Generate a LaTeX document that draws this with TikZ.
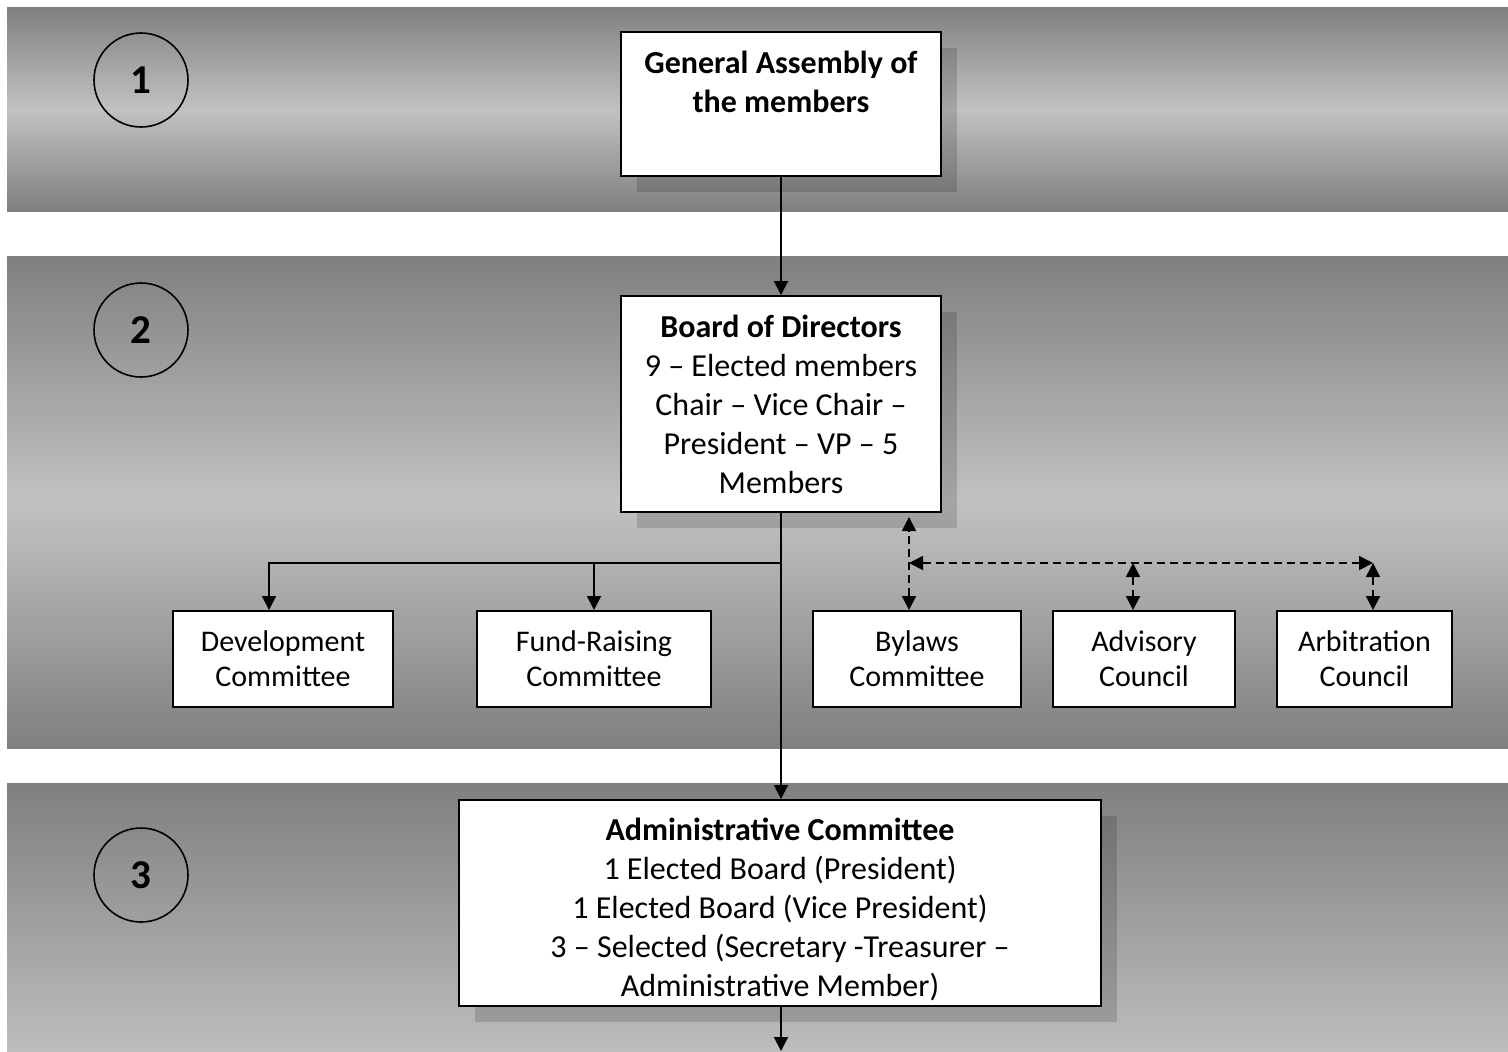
\documentclass[tikz,border=0pt]{standalone}
\usepackage{fontspec}
\setmainfont{Carlito}
\usetikzlibrary{arrows.meta,shadows}

\tikzset{
  band/.style={draw=none, top color=black!50, bottom color=black!50, middle color=black!24},
  level/.style={circle, draw, line width=0.8pt, minimum size=47pt, inner sep=0pt, font=\bfseries\fontsize{20.5}{24}\selectfont},
  bigbox/.style={draw, fill=white, line width=1pt, align=center, inner sep=0pt,
    drop shadow={shadow xshift=8pt, shadow yshift=-8pt, fill=black, opacity=0.15}},
  smallbox/.style={draw, fill=white, line width=1pt, align=center, inner sep=0pt, minimum height=48pt,
    font=\fontsize{15}{17.5}\selectfont},
  link/.style={line width=0.9pt, -{Triangle[length=7pt,width=7pt]}},
  dlink/.style={line width=0.9pt, dash pattern=on 4pt off 2.5pt,
    {Triangle[length=7pt,width=7pt]}-{Triangle[length=7pt,width=7pt]}},
}

\begin{document}
\begin{tikzpicture}[x=0.5pt, y=-0.5pt, every node/.style={font=\fontsize{16}{19.5}\selectfont}]
  \useasboundingbox (0,0) rectangle (1508,1051);
  \fill[white] (0,0) rectangle (1508,1051);
  \shade[band] (7,7) rectangle (1508,211);
  \shade[band] (7,256) rectangle (1508,748);
  \shade[draw=none, top color=black!50, bottom color=black!26] (7,783) rectangle (1508,1051);

  \node[level] (one) at (141,80) {1};
  \node[level] (two) at (141,330) {2};
  \node[level] (three) at (141,875) {3};

  \node[bigbox, minimum width=160pt, minimum height=72pt] (assembly) at (781,104)
    {\textbf{General Assembly of}\\\textbf{the members}\\\rule[-3pt]{0pt}{3pt}};
  \node[bigbox, minimum width=160pt, minimum height=108pt] (board) at (781,404)
    {\textbf{Board of Directors}\\9 – Elected members\\Chair – Vice Chair –\\President – VP – 5\\Members};
  \node[bigbox, minimum width=321pt, minimum height=103pt] (admin) at (780,903)
    {\rule{0pt}{17.5pt}\textbf{Administrative Committee}\\1 Elected Board (President)\\1 Elected Board (Vice President)\\3 – Selected (Secretary -Treasurer –\\Administrative Member)};

  \node[smallbox, minimum width=110pt] (devel) at (283,659) {Development\\Committee};
  \node[smallbox, minimum width=117pt] (fund) at (594,659) {Fund-Raising\\Committee};
  \node[smallbox, minimum width=104pt] (bylaws) at (917,659) {Bylaws\\Committee};
  \node[smallbox, minimum width=91pt] (advisory) at (1144,659) {Advisory\\Council};
  \node[smallbox, minimum width=87.5pt] (arbitration) at (1364.5,659) {Arbitration\\Council};

  \coordinate (tee) at (781,563);
  \coordinate (dl) at (909,563);
  \coordinate (da) at (1133,563);
  \coordinate (dr) at (1373,563);
  \coordinate (out) at (781,1051);

  \draw[link] (assembly) -- (board);
  \draw[link] (board.south) -- (board.south |- admin.north);
  \draw[link] (tee) -| ([xshift=-7pt]devel.north);
  \draw[link] (fund.north |- tee) -- (fund.north);

  \draw[dlink] (dl |- bylaws.north) -- ([yshift=-2pt]board.south -| dl);
  \draw[dlink] (dl) -- (dr);
  \draw[dlink] (da) -- (da |- advisory.north);
  \draw[dlink] (dr) -- (dr |- arbitration.north);

  \draw[link] (admin.south -| out) -- (out);
\end{tikzpicture}
\end{document}
